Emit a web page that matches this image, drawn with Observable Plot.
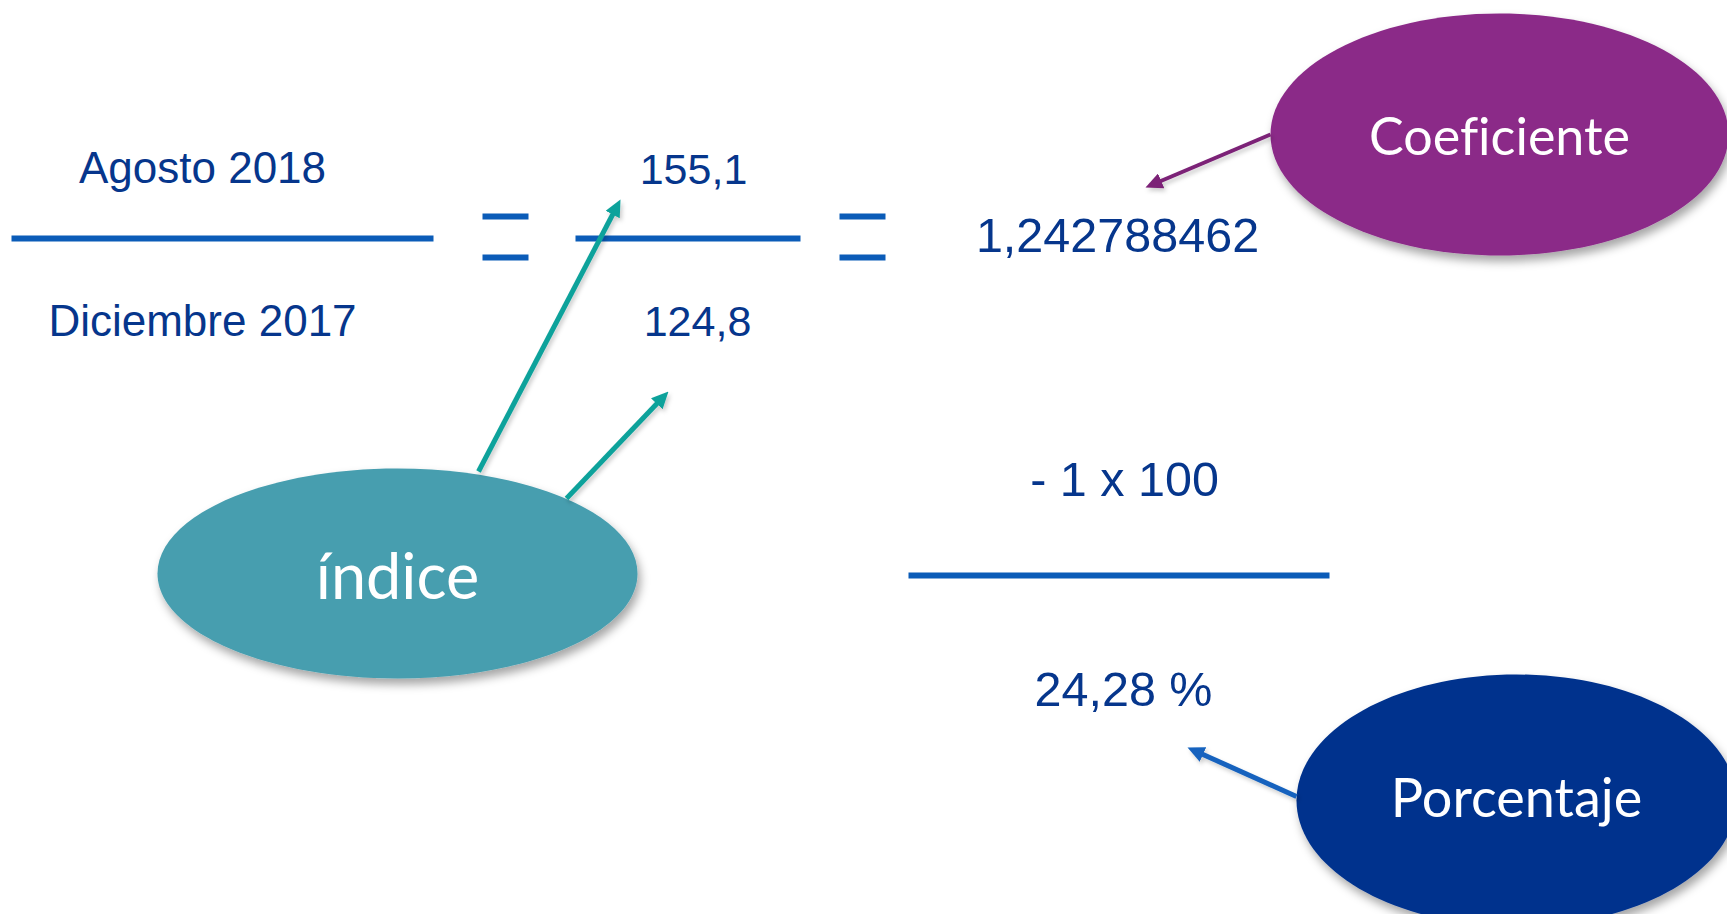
<!DOCTYPE html>
<html>
<head>
<meta charset="utf-8">
<script src="https://cdn.jsdelivr.net/npm/d3@7"></script>
<script src="https://cdn.jsdelivr.net/npm/@observablehq/plot@0.6"></script>
<style>
  html, body { margin: 0; padding: 0; background: #fff; overflow: hidden; }
  svg text { font-variant-ligatures: none; font-feature-settings: "liga" 0, "clig" 0; }
</style>
</head>
<body>
<div id="chart"></div>
<script>
// ---- data ----
const periods = ["Agosto 2018", "Diciembre 2017"];
const indexValues = [155.1, 124.8];
const coefficient = [1.242788462];
const operation = ["- 1 x 100"];
const percentage = [24.28];
const concepts = ["Coeficiente", "índice", "Porcentaje"];

// ---- formatting (Spanish decimal comma) ----
const loc = d3.formatLocale({decimal: ",", thousands: ".", grouping: [3], currency: ["", " €"]});

// ---- layout ----
const W = 1727, H = 914;
const periodPos = [{x: 202, y: 182}, {x: 202, y: 335}];
const indexPos = [{x: 693, y: 183}, {x: 697, y: 335}];
const rightPos = {coef: {x: 1117, y: 251}, op: {x: 1124, y: 495}, pct: {x: 1123, y: 705}};
const conceptLayout = [
  {cx: 1499, cy: 134, rx: 229, ry: 121, ty: 154, size: 52, fill: "#8B2A88"},
  {cx: 397, cy: 573, rx: 240, ry: 105, ty: 598, size: 63, fill: "#479EAF"},
  {cx: 1516, cy: 800, rx: 220, ry: 126, ty: 816, size: 54, fill: "#00338D"}
];
const lineRows = [
  {x1: 11, x2: 433, y1: 238, y2: 238},
  {x1: 575, x2: 800, y1: 238, y2: 238},
  {x1: 908, x2: 1329, y1: 575, y2: 575},
  {x1: 482, x2: 528, y1: 216, y2: 216},
  {x1: 482, x2: 528, y1: 257, y2: 257},
  {x1: 839, x2: 885, y1: 216, y2: 216},
  {x1: 839, x2: 885, y1: 257, y2: 257}
];
const arrowRows = [
  {x1: 1270, y1: 134, x2: 1145, y2: 187, c: "#7B2277", w: 4},
  {x1: 478, y1: 471, x2: 620, y2: 199, c: "#10A29B", w: 5},
  {x1: 566, y1: 498, x2: 668, y2: 391, c: "#10A29B", w: 5},
  {x1: 1296, y1: 796, x2: 1187, y2: 747, c: "#1562BE", w: 5}
].map(d => {
  const dx = d.x2 - d.x1, dy = d.y2 - d.y1, L = Math.hypot(dx, dy), k = 9 / L;
  return {...d, x2: d.x2 - dx * k, y2: d.y2 - dy * k};
});

const textBlue = "#06368C";
const lineBlue = "#0B5CB8";

// custom ellipse symbol
function ellipseSymbol(ratio) {
  return {
    draw(ctx, size) {
      const ry = Math.sqrt(size / Math.PI), rx = ry * ratio, k = 0.5522847;
      ctx.moveTo(rx, 0);
      ctx.bezierCurveTo(rx, ry * k, rx * k, ry, 0, ry);
      ctx.bezierCurveTo(-rx * k, ry, -rx, ry * k, -rx, 0);
      ctx.bezierCurveTo(-rx, -ry * k, -rx * k, -ry, 0, -ry);
      ctx.bezierCurveTo(rx * k, -ry, rx, -ry * k, rx, 0);
      ctx.closePath();
    }
  };
}

// filled arrow head marker
function arrowHead(color) {
  const m = d3.create("svg:marker")
    .attr("viewBox", "0 -8 17 16")
    .attr("markerWidth", 17).attr("markerHeight", 16)
    .attr("markerUnits", "userSpaceOnUse")
    .attr("refX", 8).attr("refY", 0)
    .attr("orient", "auto");
  m.append("path").attr("d", "M0,-8L17,0L0,8Z").attr("fill", color).attr("stroke", "none");
  return m.node();
}

const periodRows = periods.map((p, i) => ({label: p, ...periodPos[i]}));
const indexRows = indexValues.map((v, i) => ({label: loc.format(".1f")(v), ...indexPos[i]}));
const rightRows = [
  {label: loc.format(".9f")(coefficient[0]), ...rightPos.coef},
  {label: operation[0], ...rightPos.op},
  {label: loc.format(".2f")(percentage[0]) + " %", ...rightPos.pct}
];
const conceptRows = concepts.map((c, i) => ({label: c, ...conceptLayout[i]}));

const marks = [];
// ellipses
conceptRows.forEach(d => {
  marks.push(Plot.dot([d], {x: "cx", y: "cy", r: d.ry, symbol: ellipseSymbol(d.rx / d.ry), fill: d.fill}));
});
// fraction lines and equals signs
marks.push(Plot.link(lineRows, {x1: "x1", x2: "x2", y1: "y1", y2: "y2", stroke: lineBlue, strokeWidth: 6}));
// arrows
arrowRows.forEach(d => {
  marks.push(Plot.link([d], {x1: "x1", y1: "y1", x2: "x2", y2: "y2", stroke: d.c, strokeWidth: d.w, markerEnd: arrowHead}));
});
// texts
const arial = "Liberation Sans, Arial, sans-serif";
marks.push(Plot.text(periodRows, {x: "x", y: "y", text: "label", fontSize: 44, fill: textBlue, fontFamily: arial, lineAnchor: "bottom", textAnchor: "middle"}));
marks.push(Plot.text(indexRows, {x: "x", y: "y", text: "label", fontSize: 43, fill: textBlue, fontFamily: arial, lineAnchor: "bottom", textAnchor: "middle"}));
marks.push(Plot.text(rightRows, {x: "x", y: "y", text: "label", fontSize: 48.5, fill: textBlue, fontFamily: arial, lineAnchor: "bottom", textAnchor: "middle"}));
conceptRows.forEach(d => {
  marks.push(Plot.text([d], {x: "cx", y: "ty", text: "label", fontSize: d.size, fill: "white", fontFamily: "Lato, sans-serif", lineAnchor: "bottom", textAnchor: "middle"}));
});

const svg = Plot.plot({
  width: W, height: H, margin: 0,
  x: {domain: [0, W], axis: null},
  y: {domain: [0, H], reverse: true, axis: null},
  style: {background: "white", overflow: "hidden"},
  marks
});

// drop shadows
const s = d3.select(svg);
const defs = s.insert("defs", ":first-child");
const f = defs.append("filter").attr("id", "shadow").attr("x", "-20%").attr("y", "-20%").attr("width", "150%").attr("height", "150%");
f.append("feDropShadow").attr("dx", 3).attr("dy", 6).attr("stdDeviation", 5).attr("flood-color", "#000").attr("flood-opacity", 0.35);
const f2 = defs.append("filter").attr("id", "shadowSmall").attr("x", "-20%").attr("y", "-20%").attr("width", "150%").attr("height", "150%");
f2.append("feDropShadow").attr("dx", 2).attr("dy", 3).attr("stdDeviation", 2).attr("flood-color", "#000").attr("flood-opacity", 0.2);
s.selectAll("g[aria-label=dot]").attr("filter", "url(#shadow)");
s.selectAll("g[aria-label=link]").filter((d, i) => i > 0).attr("filter", "url(#shadowSmall)");
s.selectAll("text").style("font-variant-ligatures", "none");

document.getElementById("chart").append(svg);
</script>
</body>
</html>
